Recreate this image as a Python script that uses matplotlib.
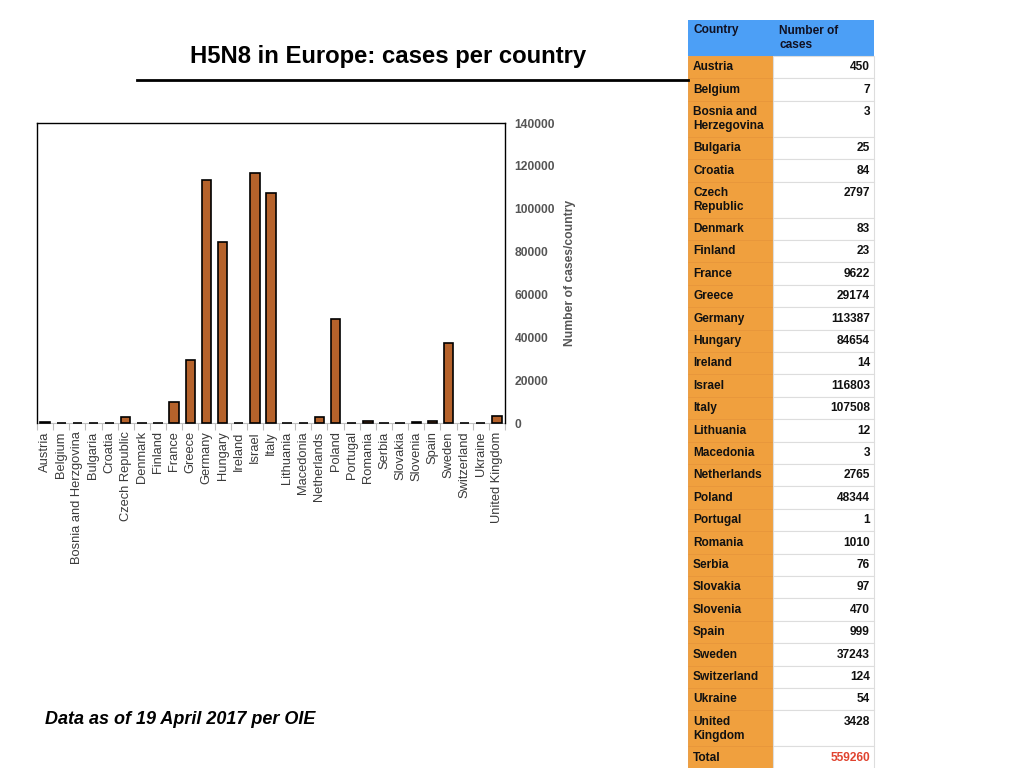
import matplotlib.pyplot as plt
import numpy as np

plt.rcParams['font.family'] = ['Liberation Sans', 'DejaVu Sans']

# data
chart_labels = ["Austria", "Belgium", "Bosnia and Herzgovina", "Bulgaria", "Croatia",
                "Czech Republic", "Denmark", "Finland", "France", "Greece", "Germany",
                "Hungary", "Ireland", "Israel", "Italy", "Lithuania", "Macedonia",
                "Netherlands", "Poland", "Portugal", "Romania", "Serbia", "Slovakia",
                "Slovenia", "Spain", "Sweden", "Switzerland", "Ukraine", "United Kingdom"]
table_labels = ["Austria", "Belgium", "Bosnia and\nHerzegovina", "Bulgaria", "Croatia",
                "Czech\nRepublic", "Denmark", "Finland", "France", "Greece", "Germany",
                "Hungary", "Ireland", "Israel", "Italy", "Lithuania", "Macedonia",
                "Netherlands", "Poland", "Portugal", "Romania", "Serbia", "Slovakia",
                "Slovenia", "Spain", "Sweden", "Switzerland", "Ukraine", "United\nKingdom"]
cases = [450, 7, 3, 25, 84, 2797, 83, 23, 9622, 29174, 113387, 84654, 14, 116803,
         107508, 12, 3, 2765, 48344, 1, 1010, 76, 97, 470, 999, 37243, 124, 54, 3428]
total = 559260
y_ticks = [0, 20000, 40000, 60000, 80000, 100000, 120000, 140000]

W, H = 1024, 768
fig = plt.figure(figsize=(W / 100, H / 100), dpi=100)

# bar chart
ax = fig.add_axes([37 / W, 1 - 423 / H, (505 - 37) / W, (423 - 123) / H])
x = np.arange(len(cases))
bars = ax.bar(x, cases, width=0.58, color='#b5622b', edgecolor='black', linewidth=1.2)
for b in bars:
    b.set_clip_on(False)  # keep the tiny bars visible as a line
ax.set_xlim(-0.5, len(cases) - 0.5)
ax.set_ylim(0, 140000)
ax.set_xticks(x)
ax.set_xticklabels(chart_labels, rotation=90, fontsize=9.3, color='#3a3a3a')
ax.set_xticks(np.arange(len(cases) + 1) - 0.5, minor=True)
ax.tick_params(axis='x', which='major', length=0, pad=6)
ax.tick_params(axis='x', which='minor', length=5, color='#c0c0c0', width=0.8)
ax.yaxis.tick_right()
ax.set_yticks(y_ticks)
ax.set_yticklabels([str(v) for v in y_ticks], fontsize=8.7, fontweight='bold', color='#555555')
ax.tick_params(axis='y', length=0, pad=7)
ax.yaxis.set_label_position('right')
ax.set_ylabel("Number of cases/country", fontsize=8.7, fontweight='bold', color='#555555',
              labelpad=6)
for s in ['left', 'top', 'right']:
    ax.spines[s].set_color('black')
    ax.spines[s].set_linewidth(1)
ax.spines['bottom'].set_color('#c0c0c0')
ax.spines['bottom'].set_linewidth(0.8)
ax.spines['bottom'].set_zorder(0.5)

# overlay in pixel coordinates for title, footnote and table
ov = fig.add_axes([0, 0, 1, 1], zorder=5)
ov.set_xlim(0, W)
ov.set_ylim(H, 0)
ov.axis('off')
ov.patch.set_alpha(0)

ov.text(388, 56, "H5N8 in Europe: cases per country", fontsize=17.2, fontweight='bold',
        ha='center', va='center', color='black')
ov.plot([137, 688], [80, 80], color='black', linewidth=2)
ov.text(45, 720, "Data as of 19 April 2017 per OIE", fontsize=13, fontweight='bold',
        style='italic', ha='left', va='center', color='black')

x0, x1, x2 = 688, 773, 874
blue = '#4c9ff6'
orange = '#f0a03e'
ov.add_patch(plt.Rectangle((x0, 20), x2 - x0, 36, facecolor=blue, edgecolor='none'))
ov.text(x0 + 5, 30.5, "Country", fontsize=8.6, fontweight='bold', va='center', color='#111122')
ov.text(x1 + 6, 30.5, "Number of", fontsize=8.6, fontweight='bold', va='center', color='#111122')
ov.text(x1 + 6, 44.5, "cases", fontsize=8.6, fontweight='bold', va='center', color='#111122')

rows = list(zip(table_labels, [str(c) for c in cases])) + [("Total", str(total))]
top = 56
for i, (lab, val) in enumerate(rows):
    h = 36 if "\n" in lab else 22.4
    ov.add_patch(plt.Rectangle((x0, top), x1 - x0, h, facecolor=orange,
                               edgecolor='#e8963a', linewidth=0.6))
    ov.add_patch(plt.Rectangle((x1, top), x2 - x1, h, facecolor='white',
                               edgecolor='#dddddd', linewidth=0.8))
    for k, part in enumerate(lab.split("\n")):
        ov.text(x0 + 5, top + 11.5 + 14 * k, part, fontsize=8.6, fontweight='bold',
                va='center', color='#111111')
    ov.text(x2 - 4, top + 11.5, val, fontsize=8.6, fontweight='bold', va='center',
            ha='right', color='#e0432f' if lab == "Total" else '#111111')
    top += h

fig.savefig('out.png', dpi=100)
